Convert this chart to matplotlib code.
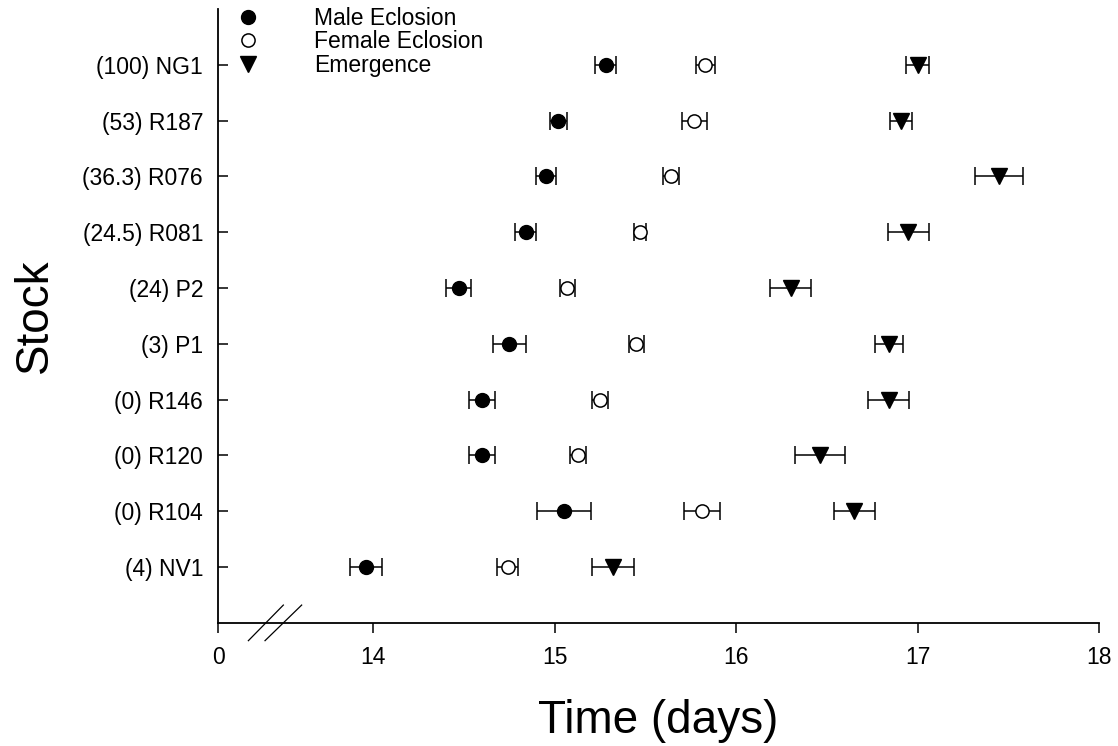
import matplotlib
matplotlib.use("Agg")
import matplotlib.pyplot as plt

plt.rcParams['font.family'] = ['Liberation Sans', 'DejaVu Sans']

# ---- data ----
stocks = ['(100) NG1', '(53) R187', '(36.3) R076', '(24.5) R081', '(24) P2',
          '(3) P1', '(0) R146', '(0) R120', '(0) R104', '(4) NV1']
male = [15.28, 15.02, 14.95, 14.84, 14.47, 14.75, 14.60, 14.60, 15.05, 13.96]
male_err = [0.057, 0.045, 0.055, 0.057, 0.071, 0.090, 0.070, 0.070, 0.148, 0.087]
female = [15.83, 15.77, 15.64, 15.47, 15.07, 15.45, 15.25, 15.13, 15.81, 14.74]
female_err = [0.052, 0.067, 0.043, 0.035, 0.043, 0.042, 0.043, 0.043, 0.099, 0.060]
emergence = [17.00, 16.91, 17.45, 16.95, 16.30, 16.84, 16.84, 16.46, 16.65, 15.32]
emergence_err = [0.062, 0.062, 0.133, 0.115, 0.115, 0.077, 0.114, 0.138, 0.113, 0.115]
series_names = ['Male Eclosion', 'Female Eclosion', 'Emergence']
xtick_labels = ['0', '14', '15', '16', '17', '18']

ypos = list(range(len(stocks), 0, -1))

fig = plt.figure(figsize=(11.18, 7.46), dpi=100)
ax = fig.add_axes([0.1953, 0.1653, 0.7877, 0.8227])

eb_kw = dict(linestyle='none', ecolor='black', elinewidth=1.1, capsize=6.5,
             capthick=1.1, zorder=3)
c1 = ax.errorbar(male, ypos, xerr=male_err, marker='o', markersize=10,
                 markerfacecolor='black', markeredgecolor='black', **eb_kw)
c2 = ax.errorbar(female, ypos, xerr=female_err, marker='o', markersize=9.5,
                 markerfacecolor='white', markeredgecolor='black',
                 markeredgewidth=1.1, **eb_kw)
c3 = ax.errorbar(emergence, ypos, xerr=emergence_err, marker='v', markersize=11,
                 markerfacecolor='black', markeredgecolor='black', **eb_kw)

x_left = 13.146
ax.set_xlim(x_left, 18)
ax.set_ylim(0, 11)
ax.set_xticks([x_left, 14, 15, 16, 17, 18])
ax.set_xticklabels(xtick_labels)
ax.set_yticks(ypos)
ax.set_yticklabels(stocks)

for s in ['top', 'right']:
    ax.spines[s].set_visible(False)
for s in ['left', 'bottom']:
    ax.spines[s].set_linewidth(1.3)

ax.tick_params(axis='x', direction='out', length=7.5, width=1.1, labelsize=16.5, pad=9)
ax.tick_params(axis='y', direction='in', length=7.5, width=1.1, labelsize=16.5, pad=11)

ax.set_xlabel('Time (days)', fontsize=33, labelpad=22)
ax.set_ylabel('Stock', fontsize=33, labelpad=18)

# axis break marks
for x0, x1 in [(0.0341, 0.0738), (0.0530, 0.0946)]:
    ax.plot([x0, x1], [-0.0293, 0.0287], transform=ax.transAxes, color='black',
            linewidth=0.9, clip_on=False, zorder=5)

handles = [c1.lines[0], c2.lines[0], c3.lines[0]]
leg = ax.legend(handles, series_names, loc='upper left',
                bbox_to_anchor=(0.0212, 1.0032), borderaxespad=0, borderpad=0,
                frameon=False, fontsize=16.5, handlelength=1.0,
                handletextpad=2.37, labelspacing=0.02)

fig.savefig('out.png', dpi=100)
